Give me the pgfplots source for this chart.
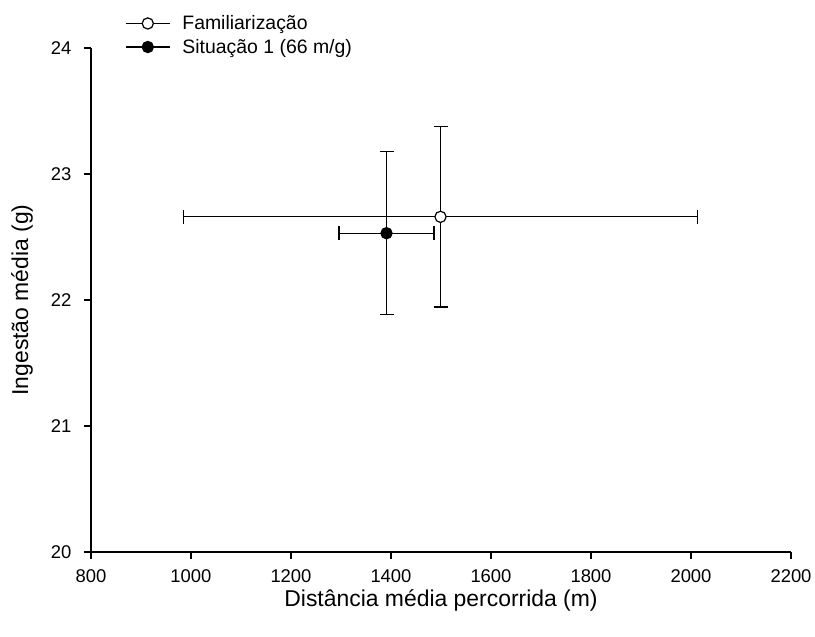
\documentclass[border=0pt]{standalone}
\usepackage{pgfplots}
\pgfplotsset{compat=1.18}
\usepackage{fontspec}
\setmainfont{Liberation Sans}

\begin{document}
\begin{tikzpicture}
\path[use as bounding box] (-91bp,-85bp) rectangle (724bp,552bp);
\begin{axis}[
  scale only axis, width=700bp, height=504bp,
  xmin=800, xmax=2200, ymin=20, ymax=24,
  xtick={800,1000,...,2200}, ytick={20,21,...,24},
  axis x line*=bottom, axis y line*=left,
  axis line style={line width=1.2bp, -},
  tick align=outside, major tick length=7bp,
  every tick/.style={line width=1.2bp, black},
  /pgf/number format/assume math mode=true,
  /pgf/number format/1000 sep={},
  ticklabel style={font=\fontsize{18.5}{22}\selectfont},
  xticklabel style={yshift=-7bp},
  yticklabel style={xshift=-9bp},
  xlabel={Distância média percorrida (m)},
  ylabel={Ingestão média (g)},
  every axis x label/.style={at={(rel axis cs:0.5,0)}, yshift=-48bp, anchor=center,
    font=\fontsize{23}{27}\selectfont},
  every axis y label/.style={at={(rel axis cs:0,0.5)}, xshift=-69bp, rotate=90, anchor=center,
    font=\fontsize{23}{27}\selectfont},
  legend style={at={(rel axis cs:0,1)}, anchor=south west, xshift=34bp, yshift=-9bp,
    draw=none, fill=none, inner sep=0pt, row sep=4bp,
    font=\fontsize{19.5}{23}\selectfont, cells={anchor=west},
    /tikz/every odd column/.append style={column sep=10bp}},
  legend image code/.code={
    \draw[black, line width=1.2bp] (0bp,0bp) -- (44bp,0bp);
    \draw[#1] plot coordinates {(22bp,0bp)};
  },
]
% Familiarização: mean with SD in both directions
\addplot[only marks, mark=*, mark size=5.6bp,
  mark options={fill=white, draw=black, line width=1.2bp},
  error bars/.cd, x dir=both, x explicit, y dir=both, y explicit,
  error bar style={line width=1.2bp, black},
  error mark options={rotate=90, mark size=7bp, line width=1.2bp, black}]
  coordinates {(1499,22.66) +- (514,0.715)};
\addlegendentry{Familiarização}
% Situação 1 (66 m/g)
\addplot[only marks, mark=*, mark size=5.6bp,
  mark options={fill=black, draw=black, line width=1.2bp},
  error bars/.cd, x dir=both, x explicit, y dir=both, y explicit,
  error bar style={line width=1.2bp, black},
  error mark options={rotate=90, mark size=7bp, line width=1.2bp, black}]
  coordinates {(1391,22.53) +- (95,0.646)};
\addlegendentry{Situação 1 (66 m/g)}
\end{axis}
\end{tikzpicture}
\end{document}
